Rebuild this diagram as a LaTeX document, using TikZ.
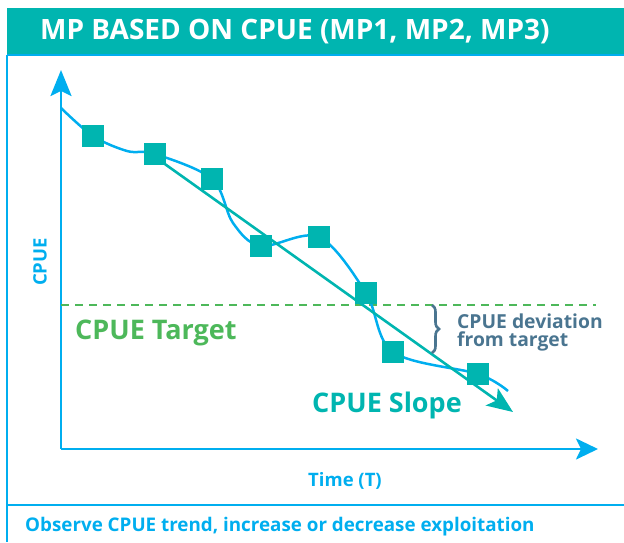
\documentclass[tikz,border=0pt]{standalone}
\usepackage{fontspec}
\setmainfont{Open Sans}
\usetikzlibrary{arrows.meta,decorations.pathreplacing}
\definecolor{teal1}{HTML}{00B5B0}
\definecolor{blue1}{HTML}{00AEEF}
\definecolor{green1}{HTML}{4DB85A}
\definecolor{slate1}{HTML}{4A7590}
\tikzset{
  pt/.style={rectangle,fill=teal1,minimum size=22pt,inner sep=0pt},
  axis/.style={blue1,line width=2.6pt},
  lbl/.style={inner sep=0pt,font=\bfseries},
}
\begin{document}
\begin{tikzpicture}[x=1pt,y=-1pt]
\useasboundingbox (0,0) rectangle (624,542);
% header and frame
\fill[teal1] (7,8) rectangle (624,54);
\draw[blue1,line width=2pt] (7,55) -- (624,55);
\draw[blue1,line width=2.6pt] (7,55) -- (7,542);
\draw[blue1,line width=2.6pt] (7,505) -- (624,505);
\node[lbl,anchor=west,text=white,font=\fontsize{28}{32}\selectfont\bfseries] (title) at (40,32) {MP BASED ON CPUE (MP1, MP2, MP3)};
% axes
\coordinate (o) at (61,449);
\coordinate (ytip) at (61,70);
\coordinate (xtip) at (598,449);
\draw[axis,-{Stealth[length=26pt,width=21pt,inset=5pt]}] (o) -- (ytip);
\draw[axis,-{Stealth[length=22pt,width=21pt,inset=5pt]}] (o) -- (xtip);
\node[lbl,text=blue1,font=\fontsize{18.5}{22}\selectfont\bfseries,rotate=90] (ylab) at (40,262) {CPUE};
\node[lbl,text=blue1,font=\fontsize{18.5}{22}\selectfont\bfseries] (xlab) at (345,481) {Time (T)};
% target line
\coordinate (t0) at (61,305);
\coordinate (t1) at (596,305);
\draw[green1,line width=2.5pt,dash pattern=on 8pt off 6pt] (t0) -- (t1);
\node[lbl,anchor=west,text=green1,font=\fontsize{27}{31}\selectfont\bfseries] (target) at (75,333) {CPUE Target};
% data point positions
\coordinate (p1) at (93,136);
\coordinate (p2) at (155,154);
\coordinate (p3) at (212,179);
\coordinate (p4) at (261,246);
\coordinate (p5) at (319,237);
\coordinate (p6) at (366,293);
\coordinate (p7) at (393,352);
\coordinate (p8) at (478,374);
\coordinate (c0) at (61,108);
\coordinate (c1) at (508,391);
\coordinate (se) at (513,412);
\draw[blue1,line width=2.5pt] plot[smooth,tension=0.55] coordinates {(c0) (p1) (127,151) (p2) (p3) (233,223) (p4) (p5) (p6) (p7) (p8) (c1)};
\draw[teal1,line width=2.6pt,-{Stealth[length=26pt,width=21pt,inset=6pt]}] (155,157) -- (se);
\foreach \i in {1,...,8} \node[pt] (s\i) at (p\i) {};
\node[lbl,anchor=west,text=teal1,font=\fontsize{27}{31}\selectfont\bfseries] (slope) at (312,405) {CPUE Slope};
% deviation brace
\coordinate (b0) at (432,305);
\coordinate (b1) at (432,353);
\draw[slate1,line width=2.6pt,decorate,decoration={brace,amplitude=7pt}] (b0) -- (b1);
\node[lbl,anchor=west,align=left,text=slate1,font=\fontsize{19.3}{18}\selectfont\bfseries] (dev) at (457,332) {CPUE deviation\\from target};
% footer
\node[lbl,anchor=west,text=blue1,font=\fontsize{18.8}{22}\selectfont\bfseries] (foot) at (25,527) {Observe CPUE trend, increase or decrease exploitation};
\end{tikzpicture}
\end{document}
